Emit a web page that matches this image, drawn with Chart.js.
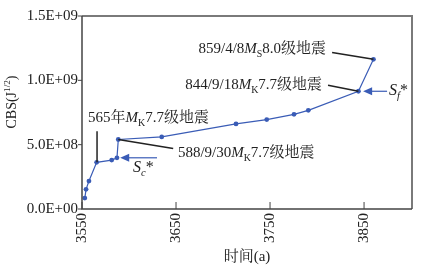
<!DOCTYPE html>
<html>
<head>
<meta charset="utf-8">
<script src="https://cdn.jsdelivr.net/npm/chart.js@4.4.1/dist/chart.umd.min.js"></script>
<style>
  html, body { margin: 0; padding: 0; background: #fff; }
  #wrap { width: 427px; height: 273px; }
</style>
</head>
<body>
<div id="wrap"><canvas id="cbsChart" width="427" height="273"></canvas></div>
<script>
// 时间 (a) 和 CBS 数值
const years = [3553, 3554.3, 3557.4, 3565.6, 3581.6, 3587.2, 3588.6, 3634.8, 3713.8, 3746.5, 3775.5, 3790.7, 3844, 3860];
const cbs = [0.85e8, 1.53e8, 2.17e8, 3.63e8, 3.80e8, 3.98e8, 5.40e8, 5.60e8, 6.61e8, 6.95e8, 7.36e8, 7.67e8, 9.15e8, 1.163e9];

const xTicks = [3550, 3650, 3750, 3850];
const yTicks = [0, 5e8, 1e9, 1.5e9];
const yTickLabels = ['0.0E+00', '5.0E+08', '1.0E+09', '1.5E+09'];

const FONT = '"Liberation Serif", "Noto Serif CJK SC", "Noto Sans CJK SC", serif';
const BLUE = '#3a5cb6';
const INK = '#222';

// 地震标注 (数据坐标)
const quakeNotes = [
    { segs: [{ t: '565年' }, { t: 'M', it: true }, { t: 'K', sub: true }, { t: '7.7级地震' }],
      x: 3556.4, y: 7.05e8, align: 'left', line: [[3566, 6.05e8], [3566, 3.63e8]] },
    { segs: [{ t: '588/9/30' }, { t: 'M', it: true }, { t: 'K', sub: true }, { t: '7.7级地震' }],
      x: 3652, y: 4.34e8, align: 'left', line: [[3588.6, 5.40e8], [3647, 4.71e8]] },
    { segs: [{ t: '844/9/18' }, { t: 'M', it: true }, { t: 'K', sub: true }, { t: '7.7级地震' }],
      x: 3805.3, y: 9.61e8, align: 'right', line: [[3811.7, 9.61e8], [3844, 9.15e8]] },
    { segs: [{ t: '859/4/8' }, { t: 'M', it: true }, { t: 'S', sub: true }, { t: '8.0级地震' }],
      x: 3809.6, y: 1.24e9, align: 'right', line: [[3816, 1.217e9], [3860, 1.163e9]] }
];

const arrows = [
    { from: [3874.5, 9.15e8], to: [3849, 9.15e8],
      segs: [{ t: 'S', it: true }, { t: 'f', it: true, sub: true }, { t: '*' }], lx: 3876.5, ly: 9.2e8 },
    { from: [3629.8, 3.98e8], to: [3590.6, 3.98e8],
      segs: [{ t: 'S', it: true }, { t: 'c', it: true, sub: true }, { t: '*' }], lx: 3604.3, ly: 3.18e8 }
];

function drawRich(ctx, segs, x, y, size, align) {
    const parts = segs.map(s => {
        const fs = (s.sub || s.sup) ? size * 0.66 : size;
        const font = (s.it ? 'italic ' : '') + fs + 'px ' + FONT;
        ctx.font = font;
        return { t: s.t, font: font, w: ctx.measureText(s.t).width,
                 dy: s.sub ? size * 0.32 : (s.sup ? -size * 0.32 : 0) };
    });
    const total = parts.reduce((a, p) => a + p.w, 0);
    let cx = align === 'center' ? x - total / 2 : (align === 'right' ? x - total : x);
    ctx.textAlign = 'left';
    ctx.textBaseline = 'middle';
    parts.forEach(p => {
        ctx.font = p.font;
        ctx.fillText(p.t, cx, y + p.dy);
        cx += p.w;
    });
}

const frameAndText = {
    id: 'frameAndText',
    afterDatasetsDraw(chart) {
        const ctx = chart.ctx;
        const a = chart.chartArea;
        const xs = chart.scales.x, ys = chart.scales.y;
        ctx.save();

        // 外框
        ctx.strokeStyle = '#7a7a7a';
        ctx.lineWidth = 2;
        ctx.beginPath();
        ctx.moveTo(a.left, a.top); ctx.lineTo(a.right, a.top); ctx.lineTo(a.right, a.bottom);
        ctx.stroke();
        ctx.strokeStyle = '#444';
        ctx.lineWidth = 1.5;
        ctx.beginPath();
        ctx.moveTo(a.left, a.top); ctx.lineTo(a.left, a.bottom); ctx.lineTo(a.right, a.bottom);
        ctx.stroke();

        // 刻度
        ctx.lineWidth = 1;
        ctx.fillStyle = INK;
        yTicks.forEach((v, i) => {
            const py = ys.getPixelForValue(v);
            ctx.beginPath(); ctx.moveTo(a.left - 4, py); ctx.lineTo(a.left, py); ctx.stroke();
            ctx.font = '15px ' + FONT;
            ctx.textAlign = 'right';
            ctx.textBaseline = 'middle';
            ctx.fillText(yTickLabels[i], a.left - 4, py);
        });
        xTicks.forEach(v => {
            const px = xs.getPixelForValue(v);
            ctx.beginPath(); ctx.moveTo(px, a.bottom); ctx.lineTo(px, a.bottom - 7); ctx.stroke();
            ctx.save();
            ctx.translate(px, a.bottom + 4);
            ctx.rotate(-Math.PI / 2);
            ctx.font = '15px ' + FONT;
            ctx.textAlign = 'right';
            ctx.textBaseline = 'middle';
            ctx.fillText(String(v), 0, 0);
            ctx.restore();
        });

        // 轴标题
        drawRich(ctx, [{ t: '时间(a)' }], (a.left + a.right) / 2 + 0, a.bottom + 48, 15, 'center');
        ctx.save();
        ctx.translate(12, 102);
        ctx.rotate(-Math.PI / 2);
        drawRich(ctx, [{ t: 'CBS(J' }, { t: '1/2', sup: true }, { t: ')' }], 0, 0, 14, 'center');
        ctx.restore();

        // 地震标注与引线
        ctx.strokeStyle = INK;
        ctx.lineWidth = 1.5;
        quakeNotes.forEach(n => {
            ctx.beginPath();
            n.line.forEach((p, k) => {
                const px = xs.getPixelForValue(p[0]), py = ys.getPixelForValue(p[1]);
                if (k === 0) ctx.moveTo(px, py); else ctx.lineTo(px, py);
            });
            ctx.stroke();
            ctx.fillStyle = INK;
            drawRich(ctx, n.segs, xs.getPixelForValue(n.x), ys.getPixelForValue(n.y), 15, n.align);
        });

        // 临界值箭头
        arrows.forEach(ar => {
            const x1 = xs.getPixelForValue(ar.from[0]), y1 = ys.getPixelForValue(ar.from[1]);
            const x2 = xs.getPixelForValue(ar.to[0]), y2 = ys.getPixelForValue(ar.to[1]);
            ctx.strokeStyle = BLUE;
            ctx.fillStyle = BLUE;
            ctx.lineWidth = 1.2;
            ctx.beginPath(); ctx.moveTo(x1, y1); ctx.lineTo(x2 + 6, y2); ctx.stroke();
            ctx.beginPath();
            ctx.moveTo(x2, y2); ctx.lineTo(x2 + 9, y2 - 4); ctx.lineTo(x2 + 9, y2 + 4); ctx.closePath();
            ctx.fill();
            ctx.fillStyle = INK;
            drawRich(ctx, ar.segs, xs.getPixelForValue(ar.lx), ys.getPixelForValue(ar.ly), 16, 'left');
        });

        ctx.restore();
    }
};

const ctx = document.getElementById('cbsChart').getContext('2d');
new Chart(ctx, {
    type: 'line',
    data: {
        datasets: [{
            data: years.map((x, i) => ({ x: x, y: cbs[i] })),
            borderColor: BLUE,
            backgroundColor: BLUE,
            borderWidth: 1.2,
            pointRadius: 2.4,
            pointBorderWidth: 0,
            tension: 0,
            fill: false
        }]
    },
    options: {
        responsive: false,
        animation: false,
        layout: { padding: { left: 82, top: 16, right: 15, bottom: 64 } },
        plugins: { legend: { display: false }, tooltip: { enabled: false } },
        scales: {
            x: { type: 'linear', min: 3550, max: 3901, display: false },
            y: { min: 0, max: 1.5e9, display: false }
        }
    },
    plugins: [frameAndText]
});
</script>
</body>
</html>
